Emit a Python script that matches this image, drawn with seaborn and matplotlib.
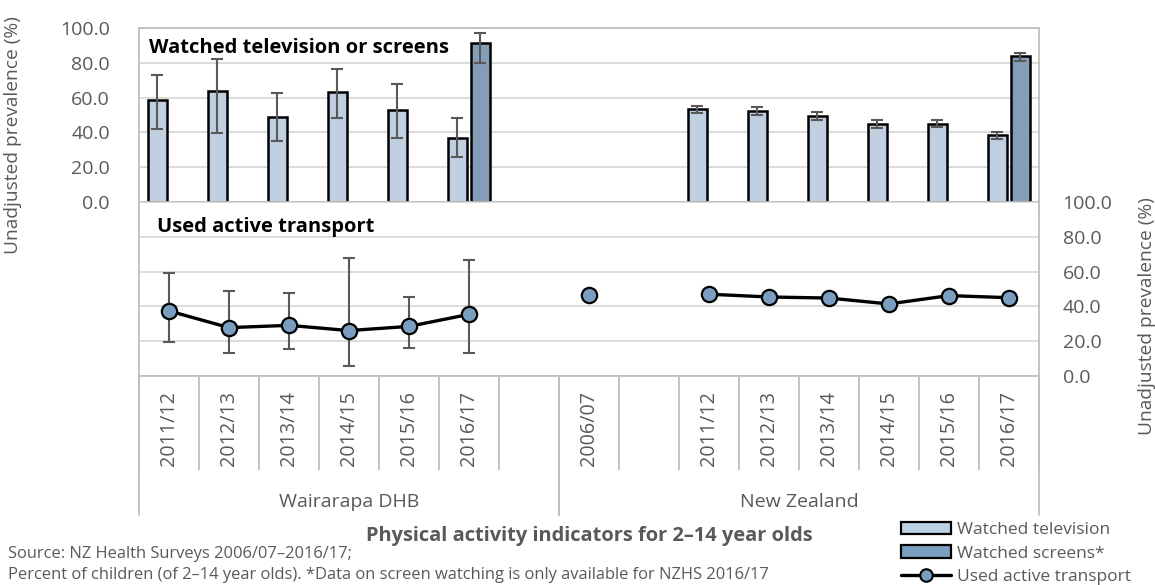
import numpy as np
import pandas as pd
import matplotlib
matplotlib.use("Agg")
import matplotlib.pyplot as plt
import seaborn as sns
from matplotlib.patches import Patch
from matplotlib.lines import Line2D

sns.set_theme(style="white")
plt.rcParams['font.family'] = ['Open Sans', 'DejaVu Sans']

GREY = '#595959'
GRID = '#D9D9D9'
AXIS = '#BFBFBF'
TV_COL = '#B9D0E6'
SCR_COL = '#7A9EBF'

# category axis: one slot per survey year, '' = empty slot
slot_year = ['2011/12', '2012/13', '2013/14', '2014/15', '2015/16', '2016/17', '',
             '2006/07', '', '2011/12', '2012/13', '2013/14', '2014/15', '2015/16', '2016/17']
slot_group = ['Wairarapa DHB'] * 7 + ['New Zealand'] * 8
groups = ['Wairarapa DHB', 'New Zealand']

nan = np.nan
# watched television (%) with 95% CI
tv = [58.7, 63.7, 48.7, 63.4, 52.6, 36.5, nan, nan, nan, 53.2, 52.4, 49.5, 44.8, 44.8, 38.3]
tv_lo = [42.2, 39.7, 34.8, 48.0, 37.0, 26.0, nan, nan, nan, 51.0, 50.2, 47.3, 42.5, 42.9, 36.0]
tv_hi = [73.2, 82.2, 62.6, 76.5, 67.6, 48.5, nan, nan, nan, 55.4, 54.6, 51.7, 47.3, 47.1, 40.2]
# watched screens* (only 2016/17)
screens = [nan] * 5 + [91.6] + [nan] * 8 + [83.7]
screens_lo = [nan] * 5 + [79.8] + [nan] * 8 + [81.3]
screens_hi = [nan] * 5 + [97.1] + [nan] * 8 + [85.6]
# used active transport (%)
transport = [37.4, 27.8, 29.1, 26.1, 28.5, 35.4, nan, 46.5, nan, 47.0, 45.4, 44.8, 41.4, 46.2, 45.0]
transport_lo = [19.5, 13.4, 15.7, 5.7, 16.3, 13.4, nan, nan, nan, nan, nan, nan, nan, nan, nan]
transport_hi = [59.4, 49.0, 47.9, 68.0, 45.4, 66.5, nan, nan, nan, nan, nan, nan, nan, nan, nan]

series = ['Watched television', 'Watched screens*']
slot_key = [g + '|' + y for g, y in zip(slot_group, slot_year)]
pos = np.arange(len(slot_key))

bars = pd.concat([
    pd.DataFrame({'slot': slot_key, 'series': series[0], 'value': tv, 'lo': tv_lo, 'hi': tv_hi, 'pos': pos}),
    pd.DataFrame({'slot': slot_key, 'series': series[1], 'value': screens, 'lo': screens_lo, 'hi': screens_hi, 'pos': pos}),
]).dropna(subset=['value'])

line = pd.DataFrame({'pos': pos, 'value': transport, 'lo': transport_lo, 'hi': transport_hi})
line['segment'] = line['value'].isna().cumsum()
line = line.dropna(subset=['value'])

fig = plt.figure(figsize=(11.55, 5.85), dpi=100)
ax_top = fig.add_axes([0.1203, 0.6547, 0.7792, 0.2974])
ax_bot = fig.add_axes([0.1203, 0.3573, 0.7792, 0.2974])

# bars
bar_width = 0.77
sns.barplot(data=bars, x='slot', y='value', hue='series', order=slot_key, hue_order=series,
            palette=[TV_COL, SCR_COL], width=bar_width, gap=0.2, dodge=True,
            edgecolor='black', linewidth=1.8, errorbar=None, legend=False, ax=ax_top, zorder=2)
offsets = {series[0]: -bar_width / 4, series[1]: bar_width / 4}
xb = bars['pos'] + bars['series'].map(offsets)
ax_top.errorbar(xb, bars['value'], yerr=[bars['value'] - bars['lo'], bars['hi'] - bars['value']],
                fmt='none', ecolor=GREY, elinewidth=1.5, capsize=4, capthick=1.5, zorder=3)

# line
ax_bot.errorbar(line['pos'], line['value'], yerr=[line['value'] - line['lo'], line['hi'] - line['value']],
                fmt='none', ecolor=GREY, elinewidth=1.5, capsize=4.3, capthick=1.5, zorder=2)
sns.lineplot(data=line, x='pos', y='value', units='segment', estimator=None, color='black',
             linewidth=2.4, marker='o', markersize=11, markerfacecolor=SCR_COL,
             markeredgecolor='black', markeredgewidth=1.6, ax=ax_bot, zorder=3)

for ax in (ax_top, ax_bot):
    ax.set_xlim(-0.5, len(slot_key) - 0.5)
    ax.set_ylim(0, 100)
    ax.set_yticks(np.arange(0, 101, 20))
    ax.yaxis.set_major_formatter(matplotlib.ticker.FormatStrFormatter('%.1f'))
    ax.grid(axis='y', color=GRID, linewidth=1.3)
    ax.set_axisbelow(True)
    ax.set_xlabel('')
    ax.set_ylabel('')
    ax.set_xticks(pos)
    ax.set_xticks(np.arange(-0.5, len(slot_key)), minor=True)
    ax.tick_params(axis='x', which='both', bottom=True, top=False)
    for s in ax.spines.values():
        s.set_color(AXIS)
        s.set_linewidth(1.3)

ax_top.tick_params(axis='y', labelsize=14, labelcolor=GREY, length=0, pad=21)
ax_top.set_xticklabels([])
ax_top.tick_params(axis='x', which='major', length=0)
ax_top.tick_params(axis='x', which='minor', length=5, width=1.3, color=AXIS, direction='out')
ax_top.set_ylabel('Unadjusted prevalence (%)', fontsize=13.8, color=GREY)
ax_top.yaxis.set_label_coords(-0.13, 0.385)
ax_top.text(0.011, 0.885, 'Watched television or screens', transform=ax_top.transAxes,
            fontsize=14.5, fontweight='bold', color='black', va='center', ha='left')

ax_bot.spines['top'].set_visible(False)
ax_bot.yaxis.tick_right()
ax_bot.yaxis.set_label_position('right')
ax_bot.tick_params(axis='y', labelsize=14, labelcolor=GREY, length=0, pad=17)
ax_bot.set_xticklabels(slot_year, rotation=90, fontsize=14.2, color=GREY)
ax_bot.tick_params(axis='x', which='major', length=0, pad=11)
ax_bot.tick_params(axis='x', which='minor', length=68, width=1.3, color=AXIS, direction='out')
ax_bot.set_ylabel('Unadjusted prevalence (%)', fontsize=13.8, color=GREY)
ax_bot.yaxis.set_label_coords(1.11, 0.345)
ax_bot.text(0.02, 0.856, 'Used active transport', transform=ax_bot.transAxes,
            fontsize=14.5, fontweight='bold', color='black', va='center', ha='left')

# group labels and separators under the year labels
trans = ax_bot.get_xaxis_transform()
for g in groups:
    idx = [i for i, sg in enumerate(slot_group) if sg == g]
    left, right = idx[0] - 0.5, idx[-1] + 0.5
    ax_bot.text((left + right) / 2, -0.724, g, transform=trans, ha='center', va='center',
                fontsize=14, color=GREY)
    for xe in (left, right):
        ax_bot.plot([xe, xe], [0, -0.8], transform=trans, color=AXIS, linewidth=1.3, clip_on=False)

fig.text(589 / 1155, 1 - 536 / 585, 'Physical activity indicators for 2\u201314 year olds',
         ha='center', va='center', fontsize=14.4, fontweight='bold', color=GREY)
fig.text(8 / 1155, 1 - 554 / 585, 'Source: NZ Health Surveys 2006/07\u20132016/17;',
         ha='left', va='center', fontsize=11.9, color=GREY)
fig.text(8 / 1155, 1 - 575 / 585,
         'Percent of children (of 2\u201314 year olds). *Data on screen watching is only available for NZHS 2016/17',
         ha='left', va='center', fontsize=11.9, color=GREY)

handles = [
    Patch(facecolor=TV_COL, edgecolor='black', linewidth=1.6, label=series[0]),
    Patch(facecolor=SCR_COL, edgecolor='black', linewidth=1.6, label=series[1]),
    Line2D([], [], color='black', linewidth=2.4, marker='o', markersize=9,
           markerfacecolor=SCR_COL, markeredgecolor='black', markeredgewidth=1.5,
           label='Used active transport'),
]
fig.legend(handles=handles, loc='center left', bbox_to_anchor=(901 / 1155, 1 - 553.5 / 585),
           frameon=False, fontsize=12.5, labelcolor=GREY, handlelength=2.9, handleheight=0.7,
           handletextpad=0.35, labelspacing=0.4, borderpad=0, borderaxespad=0)

fig.savefig('out.png', dpi=100)
